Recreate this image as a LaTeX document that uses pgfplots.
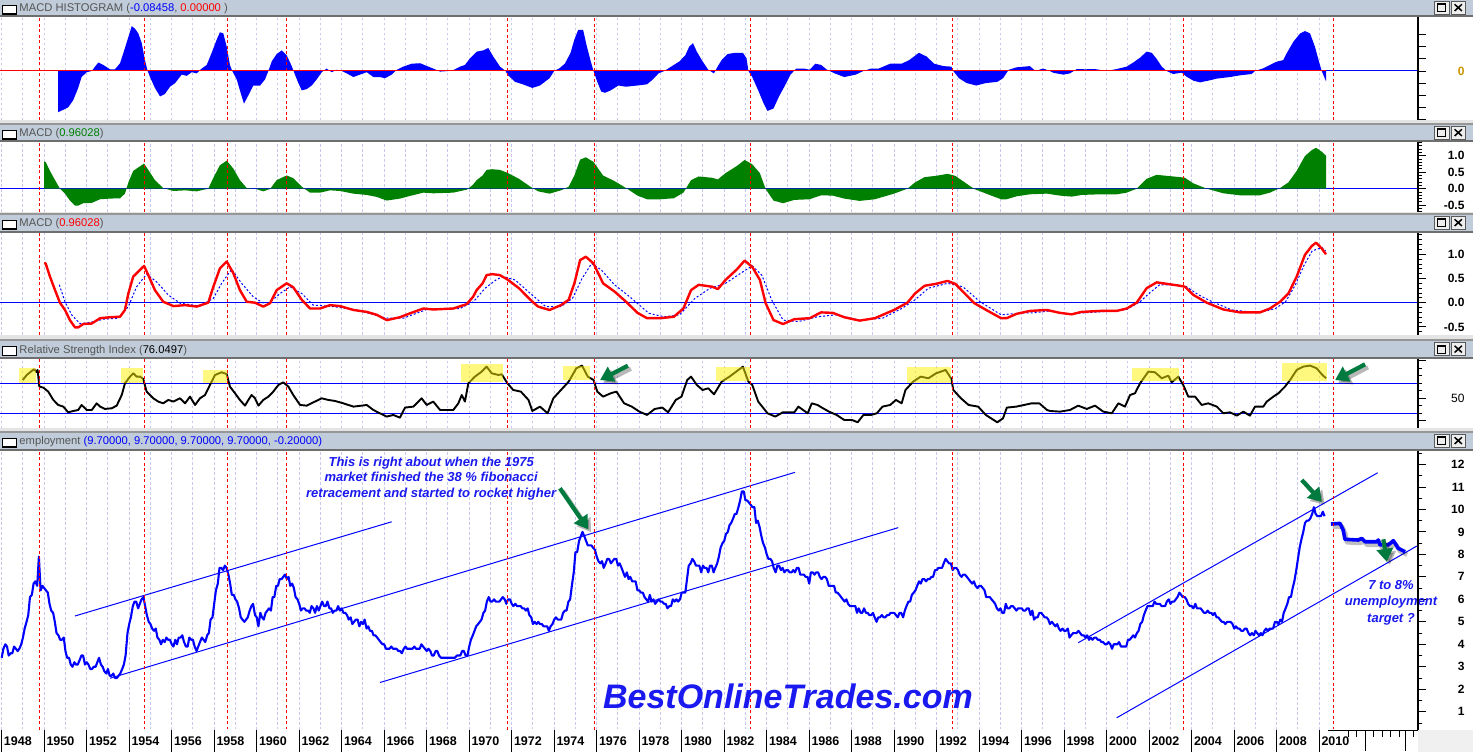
\documentclass[border=0pt]{standalone}
\usepackage{pgfplots}
\pgfplotsset{compat=1.18}
\usepackage{pgfplotstable}
\usepackage{fontspec}
\setmainfont{Liberation Sans}
\usetikzlibrary{arrows.meta}

\definecolor{tbarc}{RGB}{192,204,217}
\definecolor{tbarline}{RGB}{110,110,110}
\definecolor{sepLight}{RGB}{228,228,228}
\definecolor{sepDark}{RGB}{150,150,150}
\definecolor{gridc}{RGB}{200,200,238}
\definecolor{macdgreen}{RGB}{0,128,0}
\definecolor{arrowgreen}{RGB}{0,122,62}
\definecolor{txtblue}{RGB}{25,25,240}
\definecolor{titlegray}{RGB}{85,85,85}
\definecolor{btnface}{RGB}{238,238,238}
\definecolor{btnedge}{RGB}{90,90,90}
\definecolor{zerogold}{RGB}{200,150,0}

\newcommand{\titlefont}{\fontsize{11.2}{13}\selectfont}
\newcommand{\tickfont}{\bfseries\fontsize{12}{12}\selectfont}

\pgfplotstableread{
year val
1950.66 -0.34
1950.90 -0.32
1951.13 -0.30
1951.37 -0.24
1951.60 -0.14
1951.76 -0.05
1952.00 -0.01
1952.24 0.00
1952.39 0.036
1952.55 0.07
1952.78 0.05
1953.10 0.014
1953.33 0.014
1953.57 0.064
1953.80 0.19
1953.96 0.28
1954.12 0.37
1954.27 0.35
1954.43 0.31
1954.59 0.23
1954.74 0.09
1954.87 0.00
1954.98 -0.05
1955.21 -0.14
1955.45 -0.21
1955.68 -0.19
1955.92 -0.13
1956.16 -0.10
1956.47 -0.03
1956.71 -0.04
1956.94 -0.01
1957.18 -0.02
1957.41 0.02
1957.65 0.05
1957.88 0.15
1958.12 0.26
1958.27 0.32
1958.43 0.31
1958.59 0.20
1958.74 0.05
1958.85 0.00
1959.06 -0.07
1959.21 -0.16
1959.40 -0.27
1959.61 -0.20
1959.84 -0.12
1960.16 -0.12
1960.39 -0.07
1960.55 0.00
1960.71 0.08
1960.94 0.14
1961.18 0.17
1961.41 0.13
1961.65 0.04
1961.80 -0.03
1961.96 -0.10
1962.12 -0.16
1962.35 -0.15
1962.59 -0.12
1962.82 -0.07
1963.06 -0.01
1963.29 0.02
1963.53 -0.01
1963.76 0.01
1964.00 0.00
1964.24 -0.02
1964.55 -0.05
1964.86 -0.03
1965.18 -0.01
1965.49 -0.05
1965.80 -0.05
1966.04 -0.06
1966.35 -0.03
1966.59 0.01
1966.90 0.036
1967.29 0.06
1967.69 0.064
1968.08 0.036
1968.39 0.014
1968.63 -0.005
1969.02 0.00
1969.25 0.008
1969.57 0.036
1969.80 0.05
1970.04 0.105
1970.35 0.16
1970.66 0.17
1970.90 0.19
1971.13 0.12
1971.45 0.036
1971.71 0.00
1971.80 -0.03
1972.16 -0.09
1972.52 -0.11
1972.97 -0.14
1973.33 -0.12
1973.78 -0.06
1974.00 0.00
1974.23 0.02
1974.50 0.06
1974.77 0.15
1974.95 0.26
1975.13 0.34
1975.36 0.34
1975.54 0.20
1975.72 0.08
1975.85 0.00
1976.03 -0.09
1976.21 -0.17
1976.39 -0.18
1976.66 -0.16
1977.02 -0.12
1977.38 -0.13
1977.92 -0.12
1978.37 -0.11
1978.64 -0.07
1978.91 -0.02
1979.18 0.00
1979.54 0.04
1979.90 0.08
1980.17 0.13
1980.35 0.20
1980.53 0.23
1980.71 0.16
1980.98 0.08
1981.25 0.01
1981.52 -0.02
1981.70 0.04
1981.88 0.09
1982.16 0.14
1982.51 0.15
1982.88 0.15
1983.05 0.105
1983.14 0.00
1983.32 -0.05
1983.60 -0.16
1983.86 -0.27
1984.04 -0.33
1984.32 -0.31
1984.58 -0.21
1984.86 -0.12
1985.12 -0.03
1985.39 0.02
1985.76 0.02
1986.02 0.01
1986.29 0.06
1986.56 0.05
1986.84 0.01
1987.20 -0.02
1987.65 -0.05
1988.19 -0.03
1988.55 0.00
1988.91 0.02
1989.27 0.02
1989.81 0.06
1990.35 0.06
1990.71 0.09
1991.16 0.15
1991.52 0.12
1991.88 0.06
1992.33 0.04
1992.69 0.036
1992.78 0.00
1993.05 -0.06
1993.41 -0.10
1993.86 -0.12
1994.31 -0.10
1994.85 -0.09
1995.12 -0.06
1995.39 0.01
1995.75 0.03
1996.11 0.036
1996.38 0.04
1996.65 0.00
1997.01 0.02
1997.33 0.00
1997.49 -0.015
1997.96 -0.03
1998.27 -0.02
1998.59 0.016
1998.98 0.014
1999.45 0.016
1999.99 0.00
2000.47 0.016
2000.94 0.036
2001.25 0.07
2001.57 0.11
2001.88 0.16
2002.12 0.15
2002.35 0.10
2002.59 0.036
2002.82 0.00
2003.13 -0.025
2003.53 -0.014
2003.76 -0.047
2004.08 -0.08
2004.39 -0.094
2004.78 -0.08
2005.18 -0.063
2005.80 -0.05
2006.27 -0.036
2006.82 -0.025
2006.98 0.00
2007.37 0.022
2007.68 0.05
2008.00 0.077
2008.31 0.09
2008.47 0.146
2008.78 0.24
2009.10 0.31
2009.33 0.33
2009.57 0.31
2009.80 0.20
2010.01 0.064
2010.12 0.00
2010.19 -0.03
2010.32 -0.085
}\histdata

\pgfplotstableread{
year val
1950.00 0.82
1950.07 0.81
1950.27 0.54
1950.51 0.26
1950.74 0.00
1950.98 -0.15
1951.21 -0.36
1951.45 -0.51
1951.60 -0.51
1951.84 -0.44
1952.24 -0.43
1952.63 -0.32
1953.10 -0.30
1953.57 -0.29
1953.80 -0.15
1953.96 0.19
1954.19 0.54
1954.51 0.68
1954.70 0.76
1954.90 0.57
1955.21 0.26
1955.60 0.02
1956.08 -0.07
1956.63 -0.05
1957.18 -0.08
1957.72 0.00
1957.96 0.33
1958.27 0.71
1958.59 0.85
1958.90 0.61
1959.21 0.26
1959.53 0.02
1959.92 0.00
1960.31 -0.08
1960.63 -0.01
1960.94 0.26
1961.41 0.40
1961.72 0.32
1962.12 0.06
1962.51 -0.12
1962.98 -0.12
1963.45 -0.05
1963.92 -0.07
1964.55 -0.15
1965.18 -0.19
1965.65 -0.25
1966.12 -0.36
1966.74 -0.30
1967.21 -0.22
1967.84 -0.12
1968.31 -0.14
1969.25 -0.12
1969.88 -0.03
1970.18 0.12
1970.35 0.26
1970.63 0.40
1970.82 0.57
1971.08 0.59
1971.44 0.57
1971.80 0.48
1972.34 0.30
1972.88 0.06
1973.24 -0.08
1973.78 -0.15
1974.32 -0.05
1974.68 0.06
1974.95 0.40
1975.22 0.88
1975.49 0.95
1975.85 0.81
1976.30 0.40
1976.84 0.23
1977.38 0.02
1977.92 -0.21
1978.37 -0.32
1979.00 -0.32
1979.63 -0.29
1980.08 -0.12
1980.44 0.26
1980.80 0.37
1981.44 0.33
1981.70 0.28
1982.06 0.47
1982.60 0.69
1982.96 0.87
1983.32 0.74
1983.68 0.47
1983.95 -0.01
1984.32 -0.36
1984.77 -0.44
1985.30 -0.34
1986.02 -0.32
1986.56 -0.20
1987.11 -0.21
1987.65 -0.30
1988.37 -0.37
1989.09 -0.32
1989.99 -0.15
1990.62 0.00
1990.98 0.19
1991.43 0.35
1991.97 0.39
1992.51 0.45
1992.87 0.39
1993.23 0.23
1993.77 -0.01
1994.49 -0.19
1995.03 -0.32
1995.29 -0.32
1995.76 -0.23
1996.39 -0.17
1997.18 -0.15
1997.80 -0.21
1998.35 -0.24
1998.82 -0.19
1999.68 -0.17
2000.47 -0.17
2000.94 -0.12
2001.41 0.00
2001.88 0.30
2002.35 0.42
2002.82 0.39
2003.45 0.35
2003.68 0.33
2004.08 0.16
2004.71 0.00
2005.49 -0.14
2006.27 -0.20
2007.21 -0.20
2007.68 -0.12
2008.16 0.02
2008.55 0.19
2008.94 0.54
2009.33 0.99
2009.65 1.17
2009.85 1.24
2010.12 1.12
2010.32 1.00
}\macddata

\pgfplotstableread{
year val
1950.71 0.37
1950.98 0.02
1951.29 -0.25
1951.68 -0.43
1952.16 -0.41
1952.78 -0.34
1953.49 -0.32
1953.96 -0.08
1954.35 0.33
1954.82 0.59
1955.29 0.43
1955.84 0.16
1956.39 -0.01
1957.33 -0.07
1957.96 0.09
1958.35 0.40
1958.82 0.69
1959.29 0.40
1959.84 0.12
1960.47 -0.05
1961.10 0.19
1961.57 0.33
1962.12 0.19
1962.66 -0.05
1963.60 -0.08
1964.71 -0.15
1966.12 -0.32
1966.90 -0.32
1968.00 -0.14
1969.57 -0.12
1970.20 0.02
1970.75 0.30
1971.29 0.48
1971.60 0.54
1972.16 0.47
1972.88 0.19
1973.60 -0.08
1974.32 -0.08
1974.86 0.09
1975.31 0.50
1975.76 0.81
1976.21 0.68
1976.84 0.37
1977.56 0.12
1978.46 -0.22
1979.18 -0.29
1979.90 -0.25
1980.62 0.09
1981.34 0.30
1982.06 0.40
1982.78 0.61
1983.32 0.76
1983.77 0.57
1984.23 0.06
1984.77 -0.36
1985.49 -0.39
1986.39 -0.29
1987.28 -0.25
1988.37 -0.36
1989.45 -0.32
1990.35 -0.12
1990.98 0.06
1991.61 0.30
1992.51 0.40
1993.23 0.33
1994.04 0.02
1995.03 -0.25
1996.05 -0.21
1996.54 -0.21
1997.33 -0.17
1998.12 -0.23
1999.68 -0.19
2000.94 -0.14
2001.57 0.02
2002.04 0.21
2002.49 0.37
2003.12 0.37
2003.75 0.33
2004.33 0.16
2004.96 0.02
2005.90 -0.15
2007.16 -0.21
2007.94 -0.12
2008.42 0.02
2008.88 0.37
2009.27 0.76
2009.67 1.07
2010.13 1.14
2010.30 1.07
}\signaldata

\pgfplotstableread{
year val
1948.99 74.4
1949.18 81.1
1949.41 86.4
1949.53 88.7
1949.65 84.7
1949.69 87.8
1949.77 65.6
1949.96 64.2
1950.19 58.9
1950.43 47.8
1950.66 41.1
1950.90 38.9
1951.13 31.3
1951.37 33.1
1951.60 34.4
1951.76 41.1
1952.00 34.4
1952.24 34.4
1952.47 43.3
1952.63 38.9
1952.86 35.8
1953.18 36.7
1953.41 40.2
1953.65 54.4
1953.80 70.0
1954.04 78.9
1954.19 83.3
1954.35 78.9
1954.51 78.9
1954.66 75.8
1954.82 58.9
1955.13 50.0
1955.37 45.6
1955.60 43.3
1955.84 47.8
1956.08 45.6
1956.39 50.0
1956.63 43.3
1956.86 52.2
1957.10 41.1
1957.33 50.0
1957.57 54.4
1957.80 67.8
1958.04 81.1
1958.35 84.7
1958.59 82.2
1958.74 65.6
1958.98 56.7
1959.21 47.8
1959.45 40.2
1959.61 47.8
1959.76 54.4
1959.92 50.0
1960.08 40.2
1960.31 47.8
1960.55 52.2
1960.78 58.9
1961.02 67.8
1961.25 71.3
1961.49 65.6
1961.72 54.4
1962.04 41.1
1962.35 40.2
1962.74 45.6
1963.06 50.0
1963.37 47.8
1963.69 46.4
1964.08 43.3
1964.55 38.9
1964.94 40.2
1965.18 41.1
1965.49 34.4
1965.80 30.0
1966.12 25.6
1966.43 27.8
1966.74 24.2
1966.98 37.6
1967.37 38.9
1967.76 50.0
1968.00 41.1
1968.31 45.6
1968.63 34.4
1969.25 34.4
1969.49 43.3
1969.65 54.4
1969.80 45.6
1969.96 70.0
1970.27 78.9
1970.59 85.6
1970.82 92.2
1971.06 83.3
1971.37 81.1
1971.53 82.0
1971.80 70.0
1972.07 61.1
1972.43 58.9
1972.79 47.8
1972.97 33.1
1973.33 38.9
1973.69 30.0
1973.96 50.0
1974.32 61.1
1974.68 72.2
1975.04 90.0
1975.31 93.6
1975.58 78.9
1975.85 74.4
1976.03 58.9
1976.30 52.2
1976.66 56.7
1976.93 58.9
1977.29 43.3
1977.65 38.9
1978.01 32.2
1978.37 27.8
1978.73 35.8
1979.09 37.6
1979.36 31.3
1979.72 47.8
1979.99 52.2
1980.26 74.4
1980.44 78.9
1980.71 67.8
1980.98 61.1
1981.25 63.3
1981.52 55.3
1981.88 72.2
1982.25 78.9
1982.88 92.2
1983.14 72.2
1983.32 67.8
1983.60 45.6
1984.04 30.0
1984.40 25.6
1984.76 31.3
1985.30 31.3
1985.49 38.9
1985.93 30.0
1986.12 43.3
1986.39 41.1
1986.65 36.7
1986.93 32.2
1987.29 27.8
1987.65 21.1
1988.01 21.1
1988.28 18.0
1988.55 27.8
1988.91 27.8
1989.18 30.0
1989.45 38.9
1989.81 41.1
1990.08 47.8
1990.35 43.3
1990.53 61.1
1990.89 72.2
1991.25 78.9
1991.61 76.7
1991.97 83.3
1992.42 87.8
1992.69 75.8
1992.78 61.1
1993.14 50.0
1993.50 41.1
1993.95 38.9
1994.31 27.8
1994.85 18.0
1995.12 23.3
1995.30 37.6
1995.75 38.9
1996.11 41.1
1996.47 43.3
1996.83 43.3
1997.19 34.4
1997.33 33.1
1997.80 32.2
1998.27 34.4
1998.66 40.2
1999.06 35.8
1999.45 40.2
1999.84 32.2
2000.24 30.0
2000.55 43.3
2000.86 38.9
2001.10 54.4
2001.33 56.7
2001.57 70.0
2001.96 85.6
2002.27 84.7
2002.59 76.7
2002.90 80.2
2003.06 71.3
2003.37 78.9
2003.60 67.8
2003.84 52.2
2004.16 52.2
2004.47 41.1
2004.78 43.3
2005.18 38.9
2005.49 30.0
2005.80 31.3
2006.12 26.9
2006.43 32.2
2006.74 26.9
2006.98 38.9
2007.37 38.9
2007.53 45.6
2007.84 52.2
2008.08 56.7
2008.39 65.6
2008.63 74.4
2008.94 87.8
2009.25 92.2
2009.57 93.6
2009.88 90.0
2010.12 82.0
2010.32 76.7
}\rsidata

\pgfplotsset{
  panel/.style={
    scale only axis, width=1418pt, anchor=south west,
    xmin=1947.92, xmax=2014.65, enlargelimits=false,
    axis line style={draw=none},
    xtick pos=bottom, ytick pos=right,
    xtick={1948,1949,...,2010}, xticklabels={}, xtick style={gridc, line width=0.9pt},
    xmajorgrids, x grid style={gridc, line width=0.9pt, dash pattern=on 2.5pt off 2.5pt},
    tick align=outside, major tick length=8pt, minor tick length=4pt,
    ytick style={black, line width=0.9pt},
    yticklabel style={font=\tickfont, anchor=east, xshift=42pt},
    /pgf/number format/assume math mode=true,
    clip mode=individual,
    extra description/.code={\draw[black, line width=1.3pt] (rel axis cs:1,0) -- (rel axis cs:1,1);},
  },
}

\newcommand{\reddashes}[2]{%
  \pgfplotsinvokeforeach{1949.77,1954.71,1958.62,1961.39,1971.80,1975.89,1983.23,1992.74,2003.60,2010.66}{%
    \draw[red, line width=1.1pt, dash pattern=on 3pt off 2.5pt] (axis cs:##1,#1) -- (axis cs:##1,#2);}%
}

\tikzset{
  fatarrow/.style={draw=arrowgreen, line width=4.2pt, -{Triangle[length=13pt,width=16pt]},
    preaction={draw=black, opacity=0.28, line width=4.2pt, -{Triangle[length=13pt,width=16pt]},
      transform canvas={xshift=3pt,yshift=-3pt}}},
}

\newcommand{\tbar}[3]{%
  \fill[tbarc] (0,752-#2) rectangle (1473,752-#1);
  \fill[tbarline] (0,752-#2) rectangle (1473,752-#2+1.6);
  \filldraw[fill=white, draw=black, line width=1.2pt] (2.3,752-#1-14) rectangle (16.7,752-#1-5.3);
  \node[anchor=base west, inner sep=0pt, font=\titlefont, text=titlegray] at (19.3,752-#1-12) {#3};
  \filldraw[fill=btnface, draw=btnedge, line width=0.8pt] (1434.3,752-#1-14) rectangle (1449,752-#1-1.3);
  \filldraw[fill=btnface, draw=btnedge, line width=0.8pt] (1450.9,752-#1-14) rectangle (1465.6,752-#1-1.3);
  \draw[black, line width=0.9pt] (1437.8,752-#1-11.6) rectangle (1445.6,752-#1-3.8);
  \draw[black, line width=1.8pt] (1437.8,752-#1-4.4) -- (1445.6,752-#1-4.4);
  \draw[black, line width=1.5pt] (1454.6,752-#1-11) -- (1461.9,752-#1-4.3) (1454.6,752-#1-4.3) -- (1461.9,752-#1-11);
}
\newcommand{\sep}[2]{%
  \fill[sepLight] (0,752-#2) rectangle (1473,752-#1);
  \fill[sepDark] (0,752-#2) rectangle (1473,752-#2+2);
}

\begin{document}
\begin{tikzpicture}
\fill[white] (0pt,0pt) rectangle (1473pt,752pt);
\fill[black!6] (1418pt,0pt) rectangle (1473pt,22pt);

% ---------------- Panel 1: MACD histogram
\begin{axis}[panel, at={(0pt,631.5pt)}, height=103.5pt, ymin=-0.409, ymax=0.446,
  ytick={-0.4,-0.3,-0.2,-0.1,0,0.1,0.2,0.3}, yticklabels={,,,,0,,,},
  yticklabel style={text=zerogold}]
\addplot[blue, line width=1pt] coordinates {(1947.92,0) (2014.65,0)};
\addplot[fill=blue, draw=none] table[x=year,y=val] {\histdata} \closedcycle;
\addplot[red, line width=1pt] coordinates {(1947.92,0) (2010.32,0)};
\reddashes{-0.409}{0.446}
\end{axis}

% ---------------- Panel 2: MACD area
\begin{axis}[panel, at={(0pt,540pt)}, height=70pt, ymin=-0.706, ymax=1.415,
  ytick={-0.5,0,0.5,1}, yticklabels={-0.5,0.0,0.5,1.0},
  minor ytick={-0.7,-0.6,-0.4,-0.3,-0.2,-0.1,0.1,0.2,0.3,0.4,0.6,0.7,0.8,0.9,1.1,1.2,1.3,1.4}]
\addplot[blue, line width=1pt] coordinates {(1947.92,0) (2014.65,0)};
\addplot[fill=macdgreen, draw=none] table[x=year,y=val] {\macddata} \closedcycle;
\reddashes{-0.706}{1.415}
\end{axis}

% ---------------- Panel 3: MACD line + signal
\begin{axis}[panel, at={(0pt,417pt)}, height=102pt, ymin=-0.667, ymax=1.44,
  ytick={-0.5,0,0.5,1}, yticklabels={-0.5,0.0,0.5,1.0},
  minor ytick={-0.6,-0.4,-0.3,-0.2,-0.1,0.1,0.2,0.3,0.4,0.6,0.7,0.8,0.9,1.1,1.2,1.3,1.4}]
\addplot[blue, line width=1pt] coordinates {(1947.92,0) (2014.65,0)};
\addplot[blue, line width=1pt, dash pattern=on 2pt off 2pt] table[x=year,y=val] {\signaldata};
\addplot[red, line width=2.4pt, line join=round] table[x=year,y=val] {\macddata};
\reddashes{-0.667}{1.44}
\end{axis}

% ---------------- Panel 4: RSI
\begin{axis}[panel, at={(0pt,323.7pt)}, height=69.3pt, ymin=10, ymax=102.4,
  ytick={20,50,100}, yticklabels={,50,},
  minor ytick={30,40,60,70,80,90},
  yticklabel style={font=\fontsize{12}{12}\selectfont}]
\addplot[blue, line width=1pt] coordinates {(1947.92,70) (2014.65,70)};
\addplot[blue, line width=1pt] coordinates {(1947.92,30) (2014.65,30)};
\addplot[black, line width=1.9pt, line join=round] table[x=year,y=val] {\rsidata};
\fill[yellow, opacity=0.5] (axis cs:1948.83,70) rectangle (axis cs:1949.61,90);
\fill[yellow, opacity=0.5] (axis cs:1953.60,70) rectangle (axis cs:1954.64,90);
\fill[yellow, opacity=0.5] (axis cs:1957.46,70) rectangle (axis cs:1958.62,87.7);
\fill[yellow, opacity=0.5] (axis cs:1969.60,71.3) rectangle (axis cs:1971.58,95.3);
\fill[yellow, opacity=0.5] (axis cs:1974.41,74.4) rectangle (axis cs:1975.67,93.5);
\fill[yellow, opacity=0.5] (axis cs:1981.61,73.1) rectangle (axis cs:1983.23,92.1);
\fill[yellow, opacity=0.5] (axis cs:1990.58,70) rectangle (axis cs:1992.68,92.1);
\fill[yellow, opacity=0.5] (axis cs:2001.18,73.1) rectangle (axis cs:2003.42,90);
\fill[yellow, opacity=0.5] (axis cs:2008.24,73.1) rectangle (axis cs:2010.38,96.7);
\reddashes{10}{102.4}
\draw[fatarrow] (axis cs:1977.47,93.5) -- (axis cs:1976.16,74.4);
\draw[fatarrow] (axis cs:2012.16,95.3) -- (axis cs:2010.75,74.4);
\end{axis}

% ---------------- Panel 5: employment
\begin{axis}[panel, at={(0pt,22pt)}, height=279pt, ymin=0.187, ymax=12.60,
  ytick={1,2,...,12},
  minor ytick={0.5,1.5,...,12.5}]
\addplot[blue, line width=2.1pt, line join=round] coordinates {
(1948.00,3.4)(1948.08,3.8)(1948.17,4.0)(1948.25,3.9)(1948.33,3.5)(1948.42,3.6)(1948.50,3.6)(1948.58,3.9)(1948.67,3.8)(1948.75,3.7)(1948.83,3.8)(1948.92,4.0)
(1949.00,4.3)(1949.08,4.7)(1949.17,5.0)(1949.25,5.3)(1949.33,6.1)(1949.42,6.2)(1949.50,6.7)(1949.58,6.8)(1949.67,6.6)(1949.75,7.9)(1949.83,6.4)(1949.92,6.6)
(1950.00,6.5)(1950.08,6.4)(1950.17,6.3)(1950.25,5.8)(1950.33,5.5)(1950.42,5.4)(1950.50,5.0)(1950.58,4.5)(1950.67,4.4)(1950.75,4.2)(1950.83,4.2)(1950.92,4.3)
(1951.00,3.7)(1951.08,3.4)(1951.17,3.4)(1951.25,3.1)(1951.33,3.0)(1951.42,3.2)(1951.50,3.1)(1951.58,3.1)(1951.67,3.3)(1951.75,3.5)(1951.83,3.5)(1951.92,3.1)
(1952.00,3.2)(1952.08,3.1)(1952.17,2.9)(1952.25,2.9)(1952.33,3.0)(1952.42,3.0)(1952.50,3.2)(1952.58,3.4)(1952.67,3.1)(1952.75,3.0)(1952.83,2.8)(1952.92,2.7)
(1953.00,2.9)(1953.08,2.6)(1953.17,2.6)(1953.25,2.7)(1953.33,2.5)(1953.42,2.5)(1953.50,2.6)(1953.58,2.7)(1953.67,2.9)(1953.75,3.1)(1953.83,3.5)(1953.92,4.5)
(1954.00,4.9)(1954.08,5.2)(1954.17,5.7)(1954.25,5.9)(1954.33,5.9)(1954.42,5.6)(1954.50,5.8)(1954.58,6.0)(1954.67,6.1)(1954.75,5.7)(1954.83,5.3)(1954.92,5.0)
(1955.00,4.9)(1955.08,4.7)(1955.17,4.6)(1955.25,4.7)(1955.33,4.3)(1955.42,4.2)(1955.50,4.0)(1955.58,4.2)(1955.67,4.1)(1955.75,4.3)(1955.83,4.2)(1955.92,4.2)
(1956.00,4.0)(1956.08,3.9)(1956.17,4.2)(1956.25,4.0)(1956.33,4.3)(1956.42,4.3)(1956.50,4.4)(1956.58,4.1)(1956.67,3.9)(1956.75,3.9)(1956.83,4.3)(1956.92,4.2)
(1957.00,4.2)(1957.08,3.9)(1957.17,3.7)(1957.25,3.9)(1957.33,4.1)(1957.42,4.3)(1957.50,4.2)(1957.58,4.1)(1957.67,4.4)(1957.75,4.5)(1957.83,5.1)(1957.92,5.2)
(1958.00,5.8)(1958.08,6.4)(1958.17,6.7)(1958.25,7.4)(1958.33,7.4)(1958.42,7.3)(1958.50,7.5)(1958.58,7.4)(1958.67,7.1)(1958.75,6.7)(1958.83,6.2)(1958.92,6.2)
(1959.00,6.0)(1959.08,5.9)(1959.17,5.6)(1959.25,5.2)(1959.33,5.1)(1959.42,5.0)(1959.50,5.1)(1959.58,5.2)(1959.67,5.5)(1959.75,5.7)(1959.83,5.8)(1959.92,5.3)
(1960.00,5.2)(1960.08,4.8)(1960.17,5.4)(1960.25,5.2)(1960.33,5.1)(1960.42,5.4)(1960.50,5.5)(1960.58,5.6)(1960.67,5.5)(1960.75,6.1)(1960.83,6.1)(1960.92,6.6)
(1961.00,6.6)(1961.08,6.9)(1961.17,6.9)(1961.25,7.0)(1961.33,7.1)(1961.42,6.9)(1961.50,7.0)(1961.58,6.6)(1961.67,6.7)(1961.75,6.5)(1961.83,6.1)(1961.92,6.0)
(1962.00,5.8)(1962.08,5.5)(1962.17,5.6)(1962.25,5.6)(1962.33,5.5)(1962.42,5.5)(1962.50,5.4)(1962.58,5.7)(1962.67,5.6)(1962.75,5.4)(1962.83,5.7)(1962.92,5.5)
(1963.00,5.7)(1963.08,5.9)(1963.17,5.7)(1963.25,5.7)(1963.33,5.9)(1963.42,5.6)(1963.50,5.6)(1963.58,5.4)(1963.67,5.5)(1963.75,5.5)(1963.83,5.7)(1963.92,5.5)
(1964.00,5.6)(1964.08,5.4)(1964.17,5.4)(1964.25,5.3)(1964.33,5.1)(1964.42,5.2)(1964.50,4.9)(1964.58,5.0)(1964.67,5.1)(1964.75,5.1)(1964.83,4.8)(1964.92,5.0)
(1965.00,4.9)(1965.08,5.1)(1965.17,4.7)(1965.25,4.8)(1965.33,4.6)(1965.42,4.6)(1965.50,4.4)(1965.58,4.4)(1965.67,4.3)(1965.75,4.2)(1965.83,4.1)(1965.92,4.0)
(1966.00,4.0)(1966.08,3.8)(1966.17,3.8)(1966.25,3.8)(1966.33,3.9)(1966.42,3.8)(1966.50,3.8)(1966.58,3.8)(1966.67,3.7)(1966.75,3.7)(1966.83,3.6)(1966.92,3.8)
(1967.00,3.9)(1967.08,3.8)(1967.17,3.8)(1967.25,3.8)(1967.33,3.8)(1967.42,3.9)(1967.50,3.8)(1967.58,3.8)(1967.67,3.8)(1967.75,4.0)(1967.83,3.9)(1967.92,3.8)
(1968.00,3.7)(1968.08,3.8)(1968.17,3.7)(1968.25,3.5)(1968.33,3.5)(1968.42,3.7)(1968.50,3.7)(1968.58,3.5)(1968.67,3.4)(1968.75,3.4)(1968.83,3.4)(1968.92,3.4)
(1969.00,3.4)(1969.08,3.4)(1969.17,3.4)(1969.25,3.4)(1969.33,3.4)(1969.42,3.5)(1969.50,3.5)(1969.58,3.5)(1969.67,3.7)(1969.75,3.7)(1969.83,3.5)(1969.92,3.5)
(1970.00,3.9)(1970.08,4.2)(1970.17,4.4)(1970.25,4.6)(1970.33,4.8)(1970.42,4.9)(1970.50,5.0)(1970.58,5.1)(1970.67,5.4)(1970.75,5.5)(1970.83,5.9)(1970.92,6.1)
(1971.00,5.9)(1971.08,5.9)(1971.17,6.0)(1971.25,5.9)(1971.33,5.9)(1971.42,5.9)(1971.50,6.0)(1971.58,6.1)(1971.67,6.0)(1971.75,5.8)(1971.83,6.0)(1971.92,6.0)
(1972.00,5.8)(1972.08,5.7)(1972.17,5.8)(1972.25,5.7)(1972.33,5.7)(1972.42,5.7)(1972.50,5.6)(1972.58,5.6)(1972.67,5.5)(1972.75,5.6)(1972.83,5.3)(1972.92,5.2)
(1973.00,4.9)(1973.08,5.0)(1973.17,4.9)(1973.25,5.0)(1973.33,4.9)(1973.42,4.9)(1973.50,4.8)(1973.58,4.8)(1973.67,4.8)(1973.75,4.6)(1973.83,4.8)(1973.92,4.9)
(1974.00,5.1)(1974.08,5.2)(1974.17,5.1)(1974.25,5.1)(1974.33,5.1)(1974.42,5.4)(1974.50,5.5)(1974.58,5.5)(1974.67,5.9)(1974.75,6.0)(1974.83,6.6)(1974.92,7.2)
(1975.00,8.1)(1975.08,8.1)(1975.17,8.6)(1975.25,8.8)(1975.33,9.0)(1975.42,8.8)(1975.50,8.6)(1975.58,8.4)(1975.67,8.4)(1975.75,8.4)(1975.83,8.3)(1975.92,8.2)
(1976.00,7.9)(1976.08,7.7)(1976.17,7.6)(1976.25,7.7)(1976.33,7.4)(1976.42,7.6)(1976.50,7.8)(1976.58,7.8)(1976.67,7.6)(1976.75,7.7)(1976.83,7.8)(1976.92,7.8)
(1977.00,7.5)(1977.08,7.6)(1977.17,7.4)(1977.25,7.2)(1977.33,7.0)(1977.42,7.2)(1977.50,6.9)(1977.58,7.0)(1977.67,6.8)(1977.75,6.8)(1977.83,6.8)(1977.92,6.4)
(1978.00,6.4)(1978.08,6.3)(1978.17,6.3)(1978.25,6.1)(1978.33,6.0)(1978.42,5.9)(1978.50,6.2)(1978.58,5.9)(1978.67,6.0)(1978.75,5.8)(1978.83,5.9)(1978.92,6.0)
(1979.00,5.9)(1979.08,5.9)(1979.17,5.8)(1979.25,5.8)(1979.33,5.6)(1979.42,5.7)(1979.50,5.7)(1979.58,6.0)(1979.67,5.9)(1979.75,6.0)(1979.83,5.9)(1979.92,6.0)
(1980.00,6.3)(1980.08,6.3)(1980.17,6.3)(1980.25,6.9)(1980.33,7.5)(1980.42,7.6)(1980.50,7.8)(1980.58,7.7)(1980.67,7.5)(1980.75,7.5)(1980.83,7.5)(1980.92,7.2)
(1981.00,7.5)(1981.08,7.4)(1981.17,7.4)(1981.25,7.2)(1981.33,7.5)(1981.42,7.5)(1981.50,7.2)(1981.58,7.4)(1981.67,7.6)(1981.75,7.9)(1981.83,8.3)(1981.92,8.5)
(1982.00,8.6)(1982.08,8.9)(1982.17,9.0)(1982.25,9.3)(1982.33,9.4)(1982.42,9.6)(1982.50,9.8)(1982.58,9.8)(1982.67,10.1)(1982.75,10.4)(1982.83,10.8)(1982.92,10.8)
(1983.00,10.4)(1983.08,10.4)(1983.17,10.3)(1983.25,10.2)(1983.33,10.1)(1983.42,10.1)(1983.50,9.4)(1983.58,9.5)(1983.67,9.2)(1983.75,8.8)(1983.83,8.5)(1983.92,8.3)
(1984.00,8.0)(1984.08,7.8)(1984.17,7.8)(1984.25,7.7)(1984.33,7.4)(1984.42,7.2)(1984.50,7.5)(1984.58,7.5)(1984.67,7.3)(1984.75,7.4)(1984.83,7.2)(1984.92,7.3)
(1985.00,7.3)(1985.08,7.2)(1985.17,7.2)(1985.25,7.3)(1985.33,7.2)(1985.42,7.4)(1985.50,7.4)(1985.58,7.1)(1985.67,7.1)(1985.75,7.1)(1985.83,7.0)(1985.92,7.0)
(1986.00,6.7)(1986.08,7.2)(1986.17,7.2)(1986.25,7.1)(1986.33,7.2)(1986.42,7.2)(1986.50,7.0)(1986.58,6.9)(1986.67,7.0)(1986.75,7.0)(1986.83,6.9)(1986.92,6.6)
(1987.00,6.6)(1987.08,6.6)(1987.17,6.6)(1987.25,6.3)(1987.33,6.3)(1987.42,6.2)(1987.50,6.1)(1987.58,6.0)(1987.67,5.9)(1987.75,6.0)(1987.83,5.8)(1987.92,5.7)
(1988.00,5.7)(1988.08,5.7)(1988.17,5.7)(1988.25,5.4)(1988.33,5.6)(1988.42,5.4)(1988.50,5.4)(1988.58,5.6)(1988.67,5.4)(1988.75,5.4)(1988.83,5.3)(1988.92,5.3)
(1989.00,5.4)(1989.08,5.2)(1989.17,5.0)(1989.25,5.2)(1989.33,5.2)(1989.42,5.3)(1989.50,5.2)(1989.58,5.2)(1989.67,5.3)(1989.75,5.3)(1989.83,5.4)(1989.92,5.4)
(1990.00,5.4)(1990.08,5.3)(1990.17,5.2)(1990.25,5.4)(1990.33,5.4)(1990.42,5.2)(1990.50,5.5)(1990.58,5.7)(1990.67,5.9)(1990.75,5.9)(1990.83,6.2)(1990.92,6.3)
(1991.00,6.4)(1991.08,6.6)(1991.17,6.8)(1991.25,6.7)(1991.33,6.9)(1991.42,6.9)(1991.50,6.8)(1991.58,6.9)(1991.67,6.9)(1991.75,7.0)(1991.83,7.0)(1991.92,7.3)
(1992.00,7.3)(1992.08,7.4)(1992.17,7.4)(1992.25,7.4)(1992.33,7.6)(1992.42,7.8)(1992.50,7.7)(1992.58,7.6)(1992.67,7.6)(1992.75,7.3)(1992.83,7.4)(1992.92,7.4)
(1993.00,7.3)(1993.08,7.1)(1993.17,7.0)(1993.25,7.1)(1993.33,7.1)(1993.42,7.0)(1993.50,6.9)(1993.58,6.8)(1993.67,6.7)(1993.75,6.8)(1993.83,6.6)(1993.92,6.5)
(1994.00,6.6)(1994.08,6.6)(1994.17,6.5)(1994.25,6.4)(1994.33,6.1)(1994.42,6.1)(1994.50,6.1)(1994.58,6.0)(1994.67,5.9)(1994.75,5.8)(1994.83,5.6)(1994.92,5.5)
(1995.00,5.6)(1995.08,5.4)(1995.17,5.4)(1995.25,5.8)(1995.33,5.6)(1995.42,5.6)(1995.50,5.7)(1995.58,5.7)(1995.67,5.6)(1995.75,5.5)(1995.83,5.6)(1995.92,5.6)
(1996.00,5.6)(1996.08,5.5)(1996.17,5.5)(1996.25,5.6)(1996.33,5.6)(1996.42,5.3)(1996.50,5.5)(1996.58,5.1)(1996.67,5.2)(1996.75,5.2)(1996.83,5.4)(1996.92,5.4)
(1997.00,5.3)(1997.08,5.2)(1997.17,5.2)(1997.25,5.1)(1997.33,4.9)(1997.42,5.0)(1997.50,4.9)(1997.58,4.8)(1997.67,4.9)(1997.75,4.7)(1997.83,4.6)(1997.92,4.7)
(1998.00,4.6)(1998.08,4.6)(1998.17,4.7)(1998.25,4.3)(1998.33,4.4)(1998.42,4.5)(1998.50,4.5)(1998.58,4.5)(1998.67,4.6)(1998.75,4.5)(1998.83,4.4)(1998.92,4.4)
(1999.00,4.3)(1999.08,4.4)(1999.17,4.2)(1999.25,4.3)(1999.33,4.2)(1999.42,4.3)(1999.50,4.3)(1999.58,4.2)(1999.67,4.2)(1999.75,4.1)(1999.83,4.1)(1999.92,4.0)
(2000.00,4.0)(2000.08,4.1)(2000.17,4.0)(2000.25,3.8)(2000.33,4.0)(2000.42,4.0)(2000.50,4.0)(2000.58,4.1)(2000.67,3.9)(2000.75,3.9)(2000.83,3.9)(2000.92,3.9)
(2001.00,4.2)(2001.08,4.2)(2001.17,4.3)(2001.25,4.4)(2001.33,4.3)(2001.42,4.5)(2001.50,4.6)(2001.58,4.9)(2001.67,5.0)(2001.75,5.3)(2001.83,5.5)(2001.92,5.7)
(2002.00,5.7)(2002.08,5.7)(2002.17,5.7)(2002.25,5.9)(2002.33,5.8)(2002.42,5.8)(2002.50,5.8)(2002.58,5.7)(2002.67,5.7)(2002.75,5.7)(2002.83,5.9)(2002.92,6.0)
(2003.00,5.8)(2003.08,5.9)(2003.17,5.9)(2003.25,6.0)(2003.33,6.1)(2003.42,6.3)(2003.50,6.2)(2003.58,6.1)(2003.67,6.1)(2003.75,6.0)(2003.83,5.8)(2003.92,5.7)
(2004.00,5.7)(2004.08,5.6)(2004.17,5.8)(2004.25,5.6)(2004.33,5.6)(2004.42,5.6)(2004.50,5.5)(2004.58,5.4)(2004.67,5.4)(2004.75,5.5)(2004.83,5.4)(2004.92,5.4)
(2005.00,5.3)(2005.08,5.4)(2005.17,5.2)(2005.25,5.2)(2005.33,5.1)(2005.42,5.0)(2005.50,5.0)(2005.58,4.9)(2005.67,5.0)(2005.75,5.0)(2005.83,5.0)(2005.92,4.9)
(2006.00,4.7)(2006.08,4.8)(2006.17,4.7)(2006.25,4.7)(2006.33,4.6)(2006.42,4.6)(2006.50,4.7)(2006.58,4.7)(2006.67,4.5)(2006.75,4.4)(2006.83,4.5)(2006.92,4.4)
(2007.00,4.6)(2007.08,4.5)(2007.17,4.4)(2007.25,4.5)(2007.33,4.4)(2007.42,4.6)(2007.50,4.7)(2007.58,4.6)(2007.67,4.7)(2007.75,4.7)(2007.83,4.7)(2007.92,5.0)
(2008.00,5.0)(2008.08,4.9)(2008.17,5.1)(2008.25,5.0)(2008.33,5.4)(2008.42,5.6)(2008.50,5.8)(2008.58,6.1)(2008.67,6.1)(2008.75,6.5)(2008.83,6.8)(2008.92,7.3)
(2009.00,7.8)(2009.08,8.3)(2009.17,8.7)(2009.25,9.0)(2009.33,9.4)(2009.42,9.5)(2009.50,9.5)(2009.58,9.6)(2009.67,9.8)(2009.75,10.1)(2009.83,9.8)(2009.92,9.7)
(2010.00,9.7)(2010.08,9.7)(2010.17,9.9)(2010.25,9.7)
};
% channel lines
\addplot[blue, line width=1pt] coordinates {(1951.45,5.26) (1966.35,9.45)};
\addplot[blue, line width=1pt] coordinates {(1953.10,2.49) (1985.33,11.65)};
\addplot[blue, line width=1pt] coordinates {(1965.80,2.30) (1990.19,9.19)};
\addplot[blue, line width=1pt] coordinates {(1998.66,4.07) (2012.75,11.63)};
\addplot[blue, line width=1pt] coordinates {(2000.47,0.73) (2014.59,8.37)};
% projected path
\addplot[blue, line width=3.6pt, line join=round,
  preaction={draw=black, opacity=0.25, line width=4.5pt, transform canvas={xshift=2pt,yshift=-3pt}}]
  coordinates {(2010.55,9.35)(2010.98,9.38)(2011.13,9.08)(2011.21,8.67)(2011.84,8.64)(2012.00,8.71)(2012.16,8.56)(2012.70,8.56)(2012.78,8.64)(2012.86,8.42)(2013.25,8.42)(2013.49,8.61)(2013.72,8.27)(2014.04,8.12)};
\reddashes{0.187}{12.60}
\draw[fatarrow] (axis cs:1974.27,10.94) -- (axis cs:1975.59,9.12);
\draw[fatarrow] (axis cs:2009.18,11.31) -- (axis cs:2010.12,10.34);
\draw[fatarrow] (axis cs:2013.02,8.67) -- (axis cs:2013.18,7.67);
\node[text=txtblue, font=\bfseries\itshape\fontsize{13}{15.3}\selectfont, align=center] at (axis cs:1968.21,11.38)
  {This is right about when the 1975\\market finished the 38 \% fibonacci\\retracement and started to rocket higher};
\node[text=txtblue, font=\bfseries\itshape\fontsize{13}{16.2}\selectfont, align=center] at (axis cs:2013.38,5.85)
  {7 to 8\%\\unemployment\\target ?};
\node[text=txtblue, font=\bfseries\itshape\fontsize{34}{36}\selectfont] at (axis cs:1985.00,1.67) {BestOnlineTrades.com};
\end{axis}

% ---------------- bottom date band
\begin{axis}[scale only axis, width=1418pt, height=22pt, anchor=south west, at={(0pt,0pt)},
  xmin=1947.92, xmax=2014.65, ymin=0, ymax=1, enlargelimits=false,
  axis line style={draw=none}, ytick=\empty,
  xtick={1948,1949,...,2010}, minor x tick num=11, xticklabels={},
  major tick length=0pt, minor tick length=0pt,
  xmajorgrids, xminorgrids, grid style={black, line width=0.75pt}, clip mode=individual]
\addplot[draw=none] coordinates {(1948,0.5)(2010,0.5)};
\pgfplotsinvokeforeach{1948,1950,...,2010}{%
  \node[fill=white, anchor=west, inner xsep=1.3pt, inner ysep=0pt, minimum height=23pt,
    font=\bfseries\fontsize{12.5}{13}\selectfont, xshift=0.8pt] at (axis cs:#1,0.5) {#1};}
\pgfplotsinvokeforeach{2011.37,2011.75,2012.55,2012.97,2013.36,2013.75,2014.43}{%
  \draw[black, line width=0.75pt] (axis cs:#1,1) -- (axis cs:#1,0.68);}
\pgfplotsinvokeforeach{2012.16,2014.04}{%
  \draw[black, line width=0.75pt] (axis cs:#1,1) -- (axis cs:#1,0.05);}
\draw[black, line width=0.75pt] (axis cs:2010.4,1) -- (axis cs:2014.65,1);
\end{axis}

% ---------------- window chrome
\begin{scope}[x=1pt,y=1pt]
\sep{120.5}{125}
\sep{212}{215}
\sep{335}{341.5}
\sep{428.3}{433}
\tbar{0}{17}{MACD HISTOGRAM (\textcolor{blue}{-0.08458}, \textcolor{red}{0.00000} )}
\tbar{125}{142}{MACD (\textcolor{macdgreen}{0.96028})}
\tbar{215}{233}{MACD (\textcolor{red}{0.96028})}
\tbar{341.5}{359}{Relative Strength Index (\textcolor{black}{76.0497})}
\tbar{433}{451}{employment \textcolor{blue}{(9.70000, 9.70000, 9.70000, 9.70000, -0.20000)}}
\end{scope}

\pgfresetboundingbox
\useasboundingbox (0pt,0pt) rectangle (1473pt,752pt);
\end{tikzpicture}
\end{document}
